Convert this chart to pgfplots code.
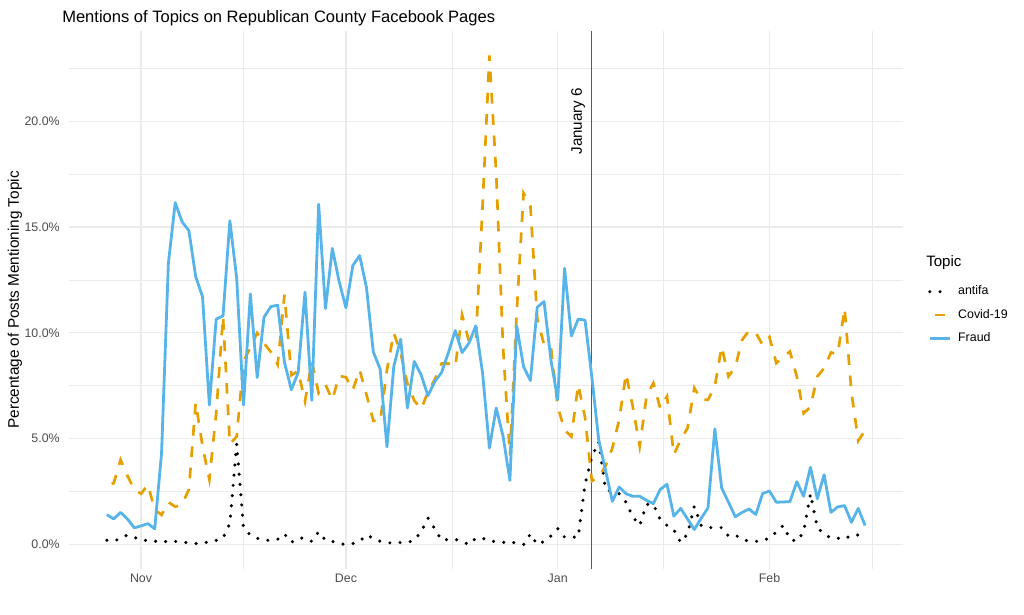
\documentclass[border=0pt]{standalone}
\usepackage{fontspec}
\setmainfont{Liberation Sans}
\usepackage{pgfplots}
\pgfplotsset{compat=1.18}
\definecolor{covid}{HTML}{E69F00}
\definecolor{fraud}{HTML}{56B4E9}
\definecolor{gridc}{HTML}{EBEBEB}
\definecolor{tickc}{HTML}{4D4D4D}
\definecolor{vline}{HTML}{5A5A5A}
\begin{document}
\begin{tikzpicture}[x=1pt,y=1pt]
\useasboundingbox (0,0) rectangle (768,460.5);
\begin{axis}[
  at={(51.75pt,33.75pt)}, anchor=south west,
  width=625.5pt, height=403.5pt, scale only axis,
  xmin=-10.55, xmax=111.55, ymin=-1.155, ymax=24.26,
  axis line style={draw=none},
  tick style={draw=none}, major tick length=0pt, minor tick length=0pt,
  xtick={0,30,61,92}, xticklabels={Nov,Dec,Jan,Feb},
  minor xtick={15,45.5,76.5,107},
  ytick={0,5,10,15,20}, yticklabels={0.0\%,5.0\%,10.0\%,15.0\%,20.0\%},
  minor ytick={2.5,7.5,12.5,17.5,22.5},
  /pgf/number format/assume math mode=true,
  grid=both,
  major grid style={gridc, line width=0.85pt},
  minor grid style={gridc, line width=0.45pt},
  xticklabel style={font=\fontsize{9.3}{11}\selectfont, text=tickc, anchor=north, inner sep=0pt, yshift=-3.5pt},
  yticklabel style={font=\fontsize{9.3}{11}\selectfont, text=tickc, anchor=east, inner sep=0pt, xshift=-6.75pt},
  legend style={at={(axis description cs:1.030,0.472)}, anchor=west, draw=none, fill=none,
    inner sep=0pt, outer sep=0pt, row sep=9pt,
    font=\fontsize{9.3}{11}\selectfont,
    nodes={inner sep=0pt, text height=6.5pt, text depth=2pt},
    /tikz/every odd column/.append style={column sep=5pt}},
  legend cell align=left,
  legend image code/.code={\draw[#1] (0pt,0pt) -- (15pt,0pt);},
]
\addplot[vline, line width=0.75pt, forget plot] coordinates {(66,-1.155) (66,24.26)};

\addplot[black, line width=2.6pt, line cap=round, dash pattern=on 0pt off 7.7pt] coordinates {
(-5,0.2) (-4,0.15) (-3,0.3) (-2,0.45) (-1,0.35) (0,0.2) (1,0.2) (2,0.15) (3,0.2) (4,0.1)
(5,0.15) (6,0.1) (7,0.1) (8,0.05) (9,0.05) (10,0.15) (11,0.2) (12,0.3) (13,1.0) (14,4.75)
(15,0.8) (16,0.45) (17,0.3) (18,0.2) (19,0.2) (20,0.25) (21,0.5) (22,0.1) (23,0.3) (24,0.3)
(25,0.15) (26,0.6) (27,0.2) (28,0.15) (29,0.05) (30,0.0) (31,0.05) (32,0.15) (33,0.45) (34,0.3)
(35,0.15) (36,0.1) (37,0.05) (38,0.1) (39,0.1) (40,0.2) (41,0.6) (42,1.25) (43,0.75) (44,0.2)
(45,0.25) (46,0.25) (47,0.15) (48,0.0) (49,0.3) (50,0.3) (51,0.15) (52,0.15) (53,0.1) (54,0.15)
(55,0.05) (56,0.0) (57,0.5) (58,0.0) (59,0.15) (60,0.4) (61,0.75) (62,0.35) (63,0.35) (64,0.35)
(65,2.85) (66,4.15) (67,4.85) (68,2.6) (69,2.5) (70,2.4) (71,2.0) (72,1.3) (73,0.9) (74,1.9)
(75,1.9) (76,1.2) (77,0.9) (78,0.7) (79,0.1) (80,0.5) (81,1.8) (82,0.9) (83,0.8) (84,0.8)
(85,0.8) (86,0.4) (87,0.45) (88,0.25) (89,0.15) (90,0.15) (91,0.2) (92,0.3) (93,0.6) (94,0.9)
(95,0.25) (96,0.15) (97,0.6) (98,2.4) (99,0.8) (100,0.5) (101,0.3) (102,0.3) (103,0.25) (104,0.45)
(105,0.45) (106,0.45)};
\addlegendentry{antifa}

\addplot[covid, line width=2pt, dash pattern=on 8pt off 8pt, dash phase=12.25pt] coordinates {
(-5,2.78) (-4,2.90) (-3,4.00) (-2,3.25) (-1,2.60) (0,2.40) (1,2.83) (2,1.65) (3,1.40) (4,2.00)
(5,1.79) (6,1.89) (7,2.60) (8,6.70) (9,4.64) (10,3.07) (11,6.20) (12,10.77) (13,4.75) (14,5.10)
(15,8.65) (16,9.30) (17,10.00) (18,9.50) (19,9.10) (20,8.50) (21,11.80) (22,8.00) (23,8.20) (24,6.76)
(25,8.65) (26,7.15) (27,7.55) (28,6.84) (29,7.97) (30,7.90) (31,7.30) (32,8.25) (33,7.08) (34,5.85)
(35,5.80) (36,8.25) (37,10.00) (38,9.05) (39,7.60) (40,6.80) (41,6.40) (42,7.20) (43,7.80) (44,8.55)
(45,8.55) (46,8.40) (47,10.85) (48,9.60) (49,9.60) (50,16.00) (51,23.10) (52,17.50) (53,9.30) (54,4.20)
(55,11.00) (56,16.60) (57,16.00) (58,10.70) (59,9.43) (60,9.35) (61,6.50) (62,5.42) (63,5.10) (64,7.55)
(65,6.00) (66,3.00) (67,3.20) (68,3.70) (69,4.56) (70,5.90) (71,8.07) (72,6.50) (73,4.64) (74,7.00)
(75,7.63) (76,6.45) (77,7.00) (78,4.25) (79,4.95) (80,5.50) (81,7.40) (82,6.84) (83,6.84) (84,7.47)
(85,9.35) (86,7.94) (87,8.40) (88,9.67) (89,10.10) (90,10.00) (91,9.43) (92,9.80) (93,8.57) (94,8.85)
(95,9.12) (96,7.94) (97,6.20) (98,6.50) (99,7.94) (100,8.33) (101,9.07) (102,9.00) (103,11.16) (104,7.20)
(105,4.90) (106,5.40)};
\addlegendentry{Covid-19}

\addplot[fraud, line width=2.1pt, line join=round] coordinates {
(-5,1.41) (-4,1.21) (-3,1.52) (-2,1.21) (-1,0.79) (0,0.88) (1,0.99) (2,0.74) (3,4.32) (4,13.29)
(5,16.15) (6,15.25) (7,14.83) (8,12.66) (9,11.71) (10,6.59) (11,10.65) (12,10.80) (13,15.30) (14,12.58)
(15,6.59) (16,11.84) (17,7.89) (18,10.74) (19,11.24) (20,11.31) (21,8.60) (22,7.31) (23,8.13) (24,11.93)
(25,6.81) (26,16.08) (27,11.15) (28,13.99) (29,12.42) (30,11.18) (31,13.18) (32,13.65) (33,12.15) (34,9.10)
(35,8.29) (36,4.61) (37,8.41) (38,9.70) (39,6.45) (40,8.65) (41,8.02) (42,7.03) (43,7.70) (44,8.13)
(45,9.07) (46,10.11) (47,9.07) (48,9.51) (49,10.33) (50,8.10) (51,4.56) (52,6.45) (53,5.11) (54,3.03)
(55,10.33) (56,8.40) (57,7.75) (58,11.21) (59,11.48) (60,8.73) (61,6.84) (62,13.05) (63,9.85) (64,10.65)
(65,10.60) (66,7.90) (67,4.95) (68,3.50) (69,2.04) (70,2.72) (71,2.40) (72,2.28) (73,2.28) (74,2.09)
(75,1.93) (76,2.60) (77,2.85) (78,1.34) (79,1.71) (80,1.21) (81,0.71) (82,1.24) (83,1.73) (84,5.46)
(85,2.67) (86,2.00) (87,1.31) (88,1.52) (89,1.68) (90,1.42) (91,2.41) (92,2.53) (93,2.00) (94,2.01)
(95,2.03) (96,2.97) (97,2.28) (98,3.65) (99,2.16) (100,3.30) (101,1.52) (102,1.78) (103,1.84) (104,1.05)
(105,1.71) (106,0.90)};
\addlegendentry{Fraud}

\node[rotate=90, font=\fontsize{11.4}{13}\selectfont, inner sep=0pt] at (axis cs:64,20) {January 6};
\end{axis}
\node[anchor=base west, inner sep=0pt, font=\fontsize{12.4}{14}\selectfont] at (46.5,443.5) {Mentions of Topics on Republican County Facebook Pages};
\node[rotate=90, inner sep=0pt, font=\fontsize{11.5}{13}\selectfont] at (11.25,235.5) {Percentage of Posts Mentioning Topic};
\node[anchor=base west, inner sep=0pt, font=\fontsize{11.3}{13}\selectfont] at (694.5,260.5) {Topic};
\end{tikzpicture}
\end{document}
